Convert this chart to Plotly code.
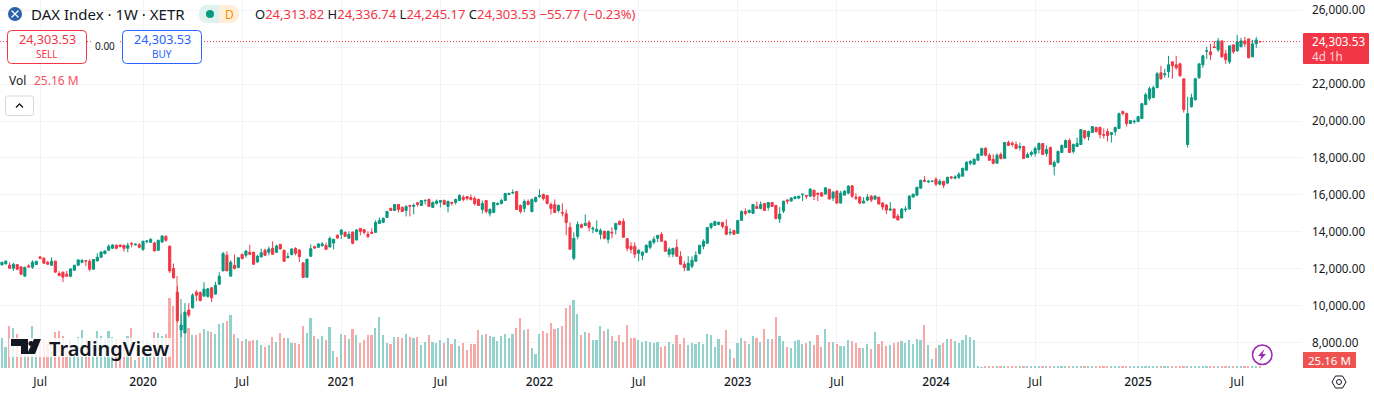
import pandas as pd
import plotly.graph_objects as go

opens = [12200,12254,12182,12020,12218,12092,11588,12146,12074,12218,
12632,12560,12344,12182,12398,11732,11804,11696,11588,11912,
12182,12344,12434,12398,11966,12416,12614,12812,12992,13100,
13262,13262,13262,13100,13370,13280,13298,13046,13460,13424,
13388,12992,13442,13748,13208,12002,10724,8672,8510,9752,
9878,10724,10706,10508,10490,10958,10616,11156,11876,12722,
11588,12180,12054,12774,12720,12882,12882,12360,12630,12990,
12882,13098,12882,13314,12990,12594,12756,13098,13008,12306,
11532,12666,13188,13152,13242,13260,13170,13386,13800,13856,
13964,13640,13982,13550,14180,14108,13856,13964,13964,14450,
14504,14774,15260,15152,15476,15314,15152,15422,15368,15566,
15422,15674,15746,15314,15530,15602,15692,15368,15584,15584,
15692,15854,15908,15854,15800,15746,15206,15692,14990,15044,
15476,15530,15692,16016,16088,16178,15422,15260,15638,15098,
15638,15908,16016,15962,15476,15476,15152,15044,14972,14234,
12560,13748,14378,14342,14504,14144,14018,13856,14018,13586,
13964,14126,14558,14558,13622,13208,13208,12830,12722,12884,
13154,13424,13640,13856,13478,12776,12776,13154,12668,12236,
11912,12128,12398,12812,13208,13370,14234,14342,14396,14504,
14288,13928,14072,13910,14612,15098,15044,14990,15368,15260,
15530,15314,15584,15422,14686,15118,15712,15658,15802,15820,
16000,15964,15928,16252,16090,16108,16036,16306,15820,16198,
15550,15982,16090,16486,15874,15874,15550,15712,15928,15766,
15874,15550,15442,15172,15226,14848,14740,15190,15226,15874,
15982,16360,16792,16702,16720,16846,16576,16738,16630,16972,
16900,16954,17008,17332,17710,17656,17872,18142,18520,18142,
17926,17710,18186,17970,18834,18798,18726,18564,18618,18024,
18186,18240,18456,18780,18240,18564,17538,17754,18294,18564,
18942,18348,18618,18726,19482,19158,19374,19644,19644,19266,
19428,19266,19428,19590,20508,20400,19860,19950,19968,20130,
20886,21210,21264,21804,22614,22506,22668,23208,23046,23100,
22290,18726,20778,21156,22344,23046,23784,23748,24018,23856,
24342,23640,23208,24126,23802,24018,24342,24450,23478,24180,24313.82]

highs = [12362,12452,12344,12308,12236,12146,12074,12236,12452,12416,
12686,12614,12416,12614,12434,11858,11840,11876,12020,12200,
12506,12524,12452,12506,12506,12830,12938,12992,13316,13316,
13316,13334,13298,13406,13424,13370,13388,13514,13532,13640,
13460,13568,13802,13802,13262,12272,11048,9536,10130,10130,
10670,10832,10760,11264,10958,11012,11282,11804,12902,12938,
12452,12756,12630,12810,13008,13296,12918,12756,13080,13080,
13188,13476,13296,13314,13026,12864,13098,13152,13044,12360,
12540,13314,13242,13386,13440,13404,13746,13620,13872,14144,
14018,14018,14000,14144,14180,14144,14018,14180,14612,14774,
14774,15134,15314,15494,15476,15368,15440,15422,15530,15602,
15692,15764,15800,15638,15746,15710,15746,15692,15638,15800,
16034,15980,15908,16016,15908,15800,15692,15692,15260,15584,
15584,15782,16070,16124,16286,16178,15476,15746,15746,15800,
15908,16286,16070,15962,15584,15746,15476,15530,15206,14504,
13964,14558,14450,14936,14612,14288,14612,14180,14072,14072,
14234,14450,14612,14720,13640,13424,13424,13046,12938,13316,
13532,13748,13802,13964,13532,13154,13100,13586,12938,12398,
12668,12668,12938,13262,13586,14234,14450,14558,14558,14504,
14666,14180,14072,14612,15152,15260,15206,15476,15638,15638,
15530,15584,15584,15422,15334,15658,15766,15874,15928,15928,
16036,15964,16360,16252,16090,16144,16414,16306,16198,16252,
16216,16252,16522,16522,16090,15928,15874,16036,15982,15982,
15874,15604,15496,15604,15280,14956,15280,15388,15982,16036,
16414,16792,17008,16792,16774,16954,16846,16738,16954,17008,
17062,17224,17440,17818,17872,17980,18250,18520,18574,18250,
18196,18250,18294,18870,18942,18888,18888,18834,18654,18294,
18402,18618,18834,18780,18672,18618,17862,18402,18726,18996,
19050,18780,19104,19536,19482,19482,19698,19698,19698,19590,
19590,19374,19698,20454,20562,20454,20022,20076,20238,20940,
21534,21858,21912,22668,22992,22830,23532,23208,23532,23154,
22290,21318,21480,22344,23100,23586,24018,24180,24342,24504,
24342,23856,24072,24126,24666,24504,24558,24450,24396,24558,24336.74]

lows = [12182,12236,11984,11876,11912,11642,11588,12074,11984,12200,
12506,12272,12200,12164,11786,11588,11264,11570,11534,11876,
12164,12290,12128,11858,11930,12398,12596,12776,12974,13082,
13046,13154,12920,12884,13154,13262,13100,12956,13370,13388,
12938,12974,13406,13460,11768,11462,9086,8294,8510,9356,
9842,10238,10220,10508,10436,10184,10616,11102,11858,11876,
11588,11964,12036,12504,12594,12720,12234,12324,12612,12684,
12720,12774,12864,13044,12360,12558,12720,12720,12360,11496,
11532,12648,13062,13134,13188,13008,13152,13044,13620,13604,
13712,13640,13316,13532,13802,13856,13640,13892,13946,14414,
14468,14774,15152,15152,15044,15080,14828,14828,14936,15368,
15404,15476,15350,15314,15476,15314,15458,15044,15422,15476,
15674,15638,15692,15692,15422,15404,14990,14990,14828,15008,
15422,15476,15692,15980,16070,15206,14990,15044,15422,15044,
15584,15836,15692,15476,14936,15044,15044,14828,13802,13046,
12452,13586,14180,14342,14018,13910,13964,13586,13586,13370,
13640,13856,14342,13694,12938,12830,12560,12398,12452,12830,
13046,13316,13424,13478,12938,12614,12614,12668,12200,11858,
11912,12020,12398,12776,13046,13370,14126,14324,14342,14180,
13802,13802,13856,13910,14612,14882,14990,14990,15260,15206,
15152,15152,15368,14666,14470,15010,15496,15658,15748,15766,
15658,15766,15874,15712,15658,15928,16036,15766,15658,15496,
15550,15982,16036,15820,15712,15496,15550,15658,15604,15712,
15496,15172,14956,15118,14740,14632,14740,15064,15226,15874,
15928,16360,16684,16630,16684,16468,16522,16360,16630,16846,
16846,16846,17008,17332,17602,17656,17872,18142,18088,17872,
17656,17710,17916,17970,18654,18618,18456,18402,17970,18024,
18078,18078,18240,18186,18078,17646,17052,17700,18294,18564,
18294,18240,18618,18726,18996,18942,19374,19374,19050,19050,
18888,18834,19212,19590,20310,19698,19860,19860,19968,20112,
20886,21102,21264,21804,22236,22344,22344,22290,22776,22398,
20454,18564,20724,21102,22290,22884,23370,23316,23946,23748,
23424,23100,23100,23640,23748,24018,24018,23424,23478,23964,24245.17]

closes = [12344,12398,12020,12236,11966,11696,12074,12092,12344,12398,
12560,12290,12236,12398,11804,11624,11534,11588,11984,12182,
12470,12434,12416,11966,12488,12614,12902,12956,13208,13280,
13100,13190,13100,13262,13334,13316,13154,13478,13496,13586,
12956,13532,13766,13532,11876,11498,9176,8942,9644,9482,
10562,10562,10274,10886,10904,10418,11102,11588,12812,11876,
12344,12000,12594,12540,12954,12774,12234,12666,12864,12720,
13062,12774,13224,13062,12396,12648,13062,12828,12648,11514,
12504,13080,13116,13332,13332,13044,13638,13584,13656,14090,
13748,13856,13370,14090,14018,13964,13748,13910,14504,14612,
14720,15098,15152,15476,15206,15098,15368,15386,15422,15476,
15692,15692,15368,15584,15656,15692,15476,15638,15548,15746,
15962,15746,15800,15746,15530,15422,15530,15098,15206,15584,
15530,15692,16070,16070,16124,15206,15098,15638,15476,15746,
15854,15962,15800,15530,15260,15044,15422,15008,14504,13046,
13640,14396,14234,14450,14234,14180,14126,14072,13640,14018,
13928,14450,14396,13694,13100,13046,12776,12992,12884,13262,
13478,13586,13802,13478,12938,13046,13100,12668,12236,12056,
12290,12452,12722,13262,13478,14234,14450,14558,14504,14288,
13856,13964,13856,14612,15098,14990,15152,15476,15260,15476,
15152,15584,15368,14720,14956,15658,15658,15820,15892,15928,
16036,15928,16306,15928,16036,15928,16378,15766,16144,15550,
16090,16198,16468,15928,15820,15550,15658,15874,15712,15928,
15496,15334,15172,15226,14740,14632,15226,15226,15928,16036,
16414,16792,16738,16738,16738,16576,16738,16522,16954,16918,
16972,17116,17440,17764,17818,17926,18196,18520,18142,17872,
17710,18142,17970,18834,18672,18726,18510,18618,17970,18186,
18294,18510,18780,18186,18456,17646,17754,18348,18672,18942,
18294,18726,18780,19536,19104,19428,19698,19428,19266,19230,
19212,19374,19644,20400,20400,19860,20022,19986,20238,20940,
21426,21750,21804,22560,22290,22560,23046,22992,22884,22452,
20616,20400,21264,22290,23100,23532,23802,23586,23982,24342,
23478,23316,24072,23748,24288,24342,24180,23424,24180,24396,24303.53]

volumes_m = [360,248,500,476,404,340,340,320,500,332,
332,340,284,320,428,440,380,280,332,280,
368,452,332,332,332,440,380,340,440,368,
344,280,332,380,476,100,312,340,340,312,
428,416,380,404,836,740,1100,824,656,476,
392,392,416,464,440,428,404,524,536,560,
632,404,356,320,344,320,332,332,272,248,
272,368,308,416,356,356,296,296,284,500,
416,596,380,344,380,332,488,200,128,408,
396,348,468,396,300,336,396,396,480,612,
396,300,288,372,372,360,408,372,360,372,
276,312,396,312,300,336,300,360,288,348,
264,300,216,288,288,456,396,408,384,372,
324,384,408,360,408,480,600,456,468,240,
168,408,444,420,540,468,480,504,720,756,
816,648,396,432,420,336,336,504,444,468,
384,324,396,312,516,360,360,336,312,324,
312,300,312,252,264,312,288,396,288,360,
276,300,288,312,288,408,396,252,348,276,
456,228,120,300,360,324,288,384,360,312,
468,348,348,612,384,324,252,240,324,336,
288,300,324,276,396,252,468,312,312,288,
264,264,336,324,300,240,240,288,228,432,
288,324,264,276,300,312,324,300,336,288,
348,336,516,276,108,240,276,300,348,348,
324,300,336,396,372,336,24,12,24,26,
26,24,22,26,24,20,26,18,26,22,
24,20,26,24,22,26,22,24,20,26,
24,22,26,18,26,24,26,22,24,20,
26,22,24,26,22,20,26,24,22,24,
26,22,24,20,26,24,22,26,24,20,
22,26,24,22,26,24,20,24,22,26,
24,26,22,24,20,22,26,24,22,24,25.16]

tick_dates = ["2019-07-01","2020-01-06","2020-07-06","2021-01-04","2021-07-05","2022-01-03",
              "2022-07-04","2023-01-02","2023-07-03","2024-01-01","2024-07-01","2025-01-06","2025-07-07"]
year_style = "<span style='font-weight:500'>{}</span>"
tick_labels = ["Jul",year_style.format("2020"),"Jul",year_style.format("2021"),"Jul",year_style.format("2022"),
               "Jul",year_style.format("2023"),"Jul",year_style.format("2024"),"Jul",year_style.format("2025"),"Jul"]
price_ticks = list(range(8000, 26001, 2000))
last_price = 24303.53

dates = [d.strftime("%Y-%m-%d") for d in pd.date_range("2019-04-22", periods=len(closes), freq="7D")]
UP, DOWN = "#089981", "#F23645"
vol_colors = ["#92D2CC" if c >= o else "#F7A9A7" for o, c in zip(opens, closes)]
FONT = "Noto Sans, sans-serif"
INK = "#131722"
W, H = 1302.0, 370.0
def X(v): return v / W
def Y(v): return 1 - v / H

fig = go.Figure()
fig.add_trace(go.Bar(x=dates, y=volumes_m, width=265e6, marker=dict(color=vol_colors, line=dict(width=0)),
                     yaxis="y", showlegend=False, hoverinfo="skip"))
fig.add_trace(go.Candlestick(x=dates, open=opens, high=highs, low=lows, close=closes, yaxis="y2", whiskerwidth=0,
                             increasing=dict(line=dict(color=UP, width=1), fillcolor=UP),
                             decreasing=dict(line=dict(color=DOWN, width=1), fillcolor=DOWN),
                             showlegend=False))

def rrect(x0, y0, x1, y1, r):
    a, b, c, d = X(x0), Y(y0), X(x1), Y(y1)
    rx, ry = r / W, r / H
    return (f"M{a+rx},{b} L{c-rx},{b} Q{c},{b} {c},{b-ry} L{c},{d+ry} Q{c},{d} {c-rx},{d} "
            f"L{a+rx},{d} Q{a},{d} {a},{d+ry} L{a},{b-ry} Q{a},{b} {a+rx},{b} Z")
def poly(pts, close=True):
    s = "M" + " L".join(f"{X(x)},{Y(y)}" for x, y in pts)
    return s + (" Z" if close else "")

shapes = [
    dict(type="line", xref="paper", x0=0, x1=1, yref="y2", y0=last_price, y1=last_price,
         line=dict(color=DOWN, width=1, dash="1px,2px"), layer="above"),
    # watermark backing and logo
    dict(type="rect", xref="paper", yref="paper", x0=X(9), x1=X(171), y0=Y(357), y1=Y(338),
         fillcolor="rgba(255,255,255,0.8)", line=dict(width=0), layer="above"),
    dict(type="path", xref="paper", yref="paper", path=poly([(11,339),(28,339),(28,354),(21,354),(21,346),(11,346)]),
         fillcolor=INK, line=dict(width=0)),
    dict(type="path", xref="paper", yref="paper", path=poly([(34,339),(41,339),(35,354),(27,354)]),
         fillcolor=INK, line=dict(width=0)),
    dict(type="circle", xref="paper", yref="paper", x0=X(28.5), x1=X(33.5), y0=Y(346), y1=Y(341),
         fillcolor=INK, line=dict(width=0)),
    # symbol icon
    dict(type="circle", xref="paper", yref="paper", x0=X(8), x1=X(22), y0=Y(21), y1=Y(7),
         fillcolor="#2962A8", line=dict(width=0)),
    dict(type="path", xref="paper", yref="paper", path=poly([(11.5,10.5),(18.5,17.5)], False), line=dict(color="white", width=1.2)),
    dict(type="path", xref="paper", yref="paper", path=poly([(18.5,10.5),(11.5,17.5)], False), line=dict(color="white", width=1.2)),
    # status pill
    dict(type="path", xref="paper", yref="paper", path=rrect(199, 5, 239, 23, 9), fillcolor="#FFEFD9", line=dict(width=0)),
    dict(type="path", xref="paper", yref="paper", path=rrect(199, 5, 219, 23, 9), fillcolor="#DFF2EF", line=dict(width=0)),
    dict(type="rect", xref="paper", yref="paper", x0=X(209), x1=X(219), y0=Y(23), y1=Y(5), fillcolor="#DFF2EF", line=dict(width=0)),
    dict(type="circle", xref="paper", yref="paper", x0=X(206), x1=X(214), y0=Y(18), y1=Y(10), fillcolor=UP, line=dict(width=0)),
    # sell / buy boxes
    dict(type="path", xref="paper", yref="paper", path=rrect(7.5, 30.5, 86.5, 63.5, 4), fillcolor="white", line=dict(color=DOWN, width=1)),
    dict(type="path", xref="paper", yref="paper", path=rrect(122.5, 30.5, 201.5, 63.5, 4), fillcolor="white", line=dict(color="#2962FF", width=1)),
    dict(type="rect", xref="paper", yref="paper", x0=X(92), x1=X(118), y0=Y(53), y1=Y(39), fillcolor="white", line=dict(width=0)),
    # collapse button
    dict(type="path", xref="paper", yref="paper", path=rrect(5.5, 96, 33.5, 115.5, 2), fillcolor="white", line=dict(color="#D6D8DE", width=1)),
    dict(type="path", xref="paper", yref="paper", path=poly([(16,107.5),(19.5,104),(23,107.5)], False), line=dict(color=INK, width=1.3)),
    # right axis labels
    dict(type="path", xref="paper", yref="paper", path=rrect(1303, 33, 1369, 64, 1), fillcolor=DOWN, line=dict(width=0)),
    dict(type="rect", xref="paper", yref="paper", x0=X(1303), x1=X(1356), y0=Y(368), y1=Y(352), fillcolor="#EF5350", line=dict(width=0)),
    # lightning badge
    dict(type="circle", xref="paper", yref="paper", x0=X(1252.5), x1=X(1272), y0=Y(364.5), y1=Y(345),
         fillcolor="white", line=dict(color="#9C27B0", width=1.5)),
    dict(type="path", xref="paper", yref="paper", path=poly([(1264.5,349),(1258,356),(1261.5,356),(1259.5,361),(1266,354),(1262.5,354)]),
         fillcolor="#9C27B0", line=dict(width=0)),
    # settings icon
    dict(type="path", xref="paper", yref="paper", path=poly([(1332,382),(1335.5,376),(1342.5,376),(1346,382),(1342.5,388),(1335.5,388)]),
         fillcolor="white", line=dict(color=INK, width=1)),
    dict(type="circle", xref="paper", yref="paper", x0=X(1336.5), x1=X(1341.5), y0=Y(384.5), y1=Y(379.5),
         fillcolor="white", line=dict(color=INK, width=1)),
]

def note(x, y, text, size=12, color=INK, anchor="left", weight=None, align=None):
    d = dict(xref="paper", yref="paper", x=X(x), y=Y(y), text=text, showarrow=False, xanchor=anchor, yanchor="middle",
             font=dict(family=FONT, size=size, color=color, weight=weight), borderpad=0, bgcolor="rgba(0,0,0,0)")
    if align:
        d["align"] = align
    return d

red = lambda s: f"<span style='color:{DOWN}'>{s}</span>"
annotations = [
    note(30, 14, "DAX Index · 1W · XETR", 15),
    note(229, 14, "D", 12, "#FB8C00", "center"),
    note(254, 14, f"O{red('24,313.82')} H{red('24,336.74')} L{red('24,245.17')} C{red('24,303.53')} {red('−55.77 (−0.23%)')}", 13),
    note(47, 39, "24,303.53", 12.6, DOWN, "center"),
    note(47, 54, "SELL", 10, DOWN, "center"),
    note(105, 46, "0.00", 10, INK, "center"),
    note(162, 39, "24,303.53", 12.6, "#2962FF", "center"),
    note(162, 54, "BUY", 10, "#2962FF", "center"),
    note(8, 80, "Vol", 12),
    note(33, 80, "25.16 M", 12, "#F7525F"),
    note(48, 348, "TradingView", 20, INK, weight=600),
    note(1311, 48, "24,303.53<br><span style='color:#FBD5D8'>4d 1h</span>", 11.7, "white", "left", align="left"),
    note(1329.5, 360.5, "25.16 M", 11.5, "white", "center"),
]

fig.update_layout(
    width=1374, height=396, autosize=False,
    margin=dict(l=0, r=72, t=0, b=26, pad=0),
    paper_bgcolor="white", plot_bgcolor="white", bargap=0, boxgap=0.2,
    font=dict(family=FONT, size=12, color=INK), showlegend=False,
    xaxis=dict(type="date", range=["2019-04-18 09:36", "2025-11-03"], rangeslider=dict(visible=False),
               tickmode="array", tickvals=tick_dates, ticktext=tick_labels, showgrid=True, gridcolor="#F2F3F6", gridwidth=1,
               zeroline=False, showline=False, ticks="", tickfont=dict(size=12, color=INK, family=FONT), ticklabelstandoff=3),
    yaxis=dict(range=[-24, 4416], visible=False, fixedrange=True),
    yaxis2=dict(range=[6504, 26558], overlaying="y", side="right", anchor="x", tickmode="array", tickvals=price_ticks,
                tickformat=",.2f", showgrid=True, gridcolor="#F2F3F6", gridwidth=1, zeroline=False, showline=False, ticks="",
                tickfont=dict(size=11.7, color=INK, family=FONT), ticklabelstandoff=9),
    shapes=shapes, annotations=annotations,
)
assert len(opens) == len(highs) == len(lows) == len(closes) == len(volumes_m) == 331, (len(opens), len(highs), len(lows), len(closes), len(volumes_m))
fig.write_html("out.html", config=dict(displayModeBar=False),
               post_script="document.body.style.margin='0';document.documentElement.style.overflow='hidden';")
